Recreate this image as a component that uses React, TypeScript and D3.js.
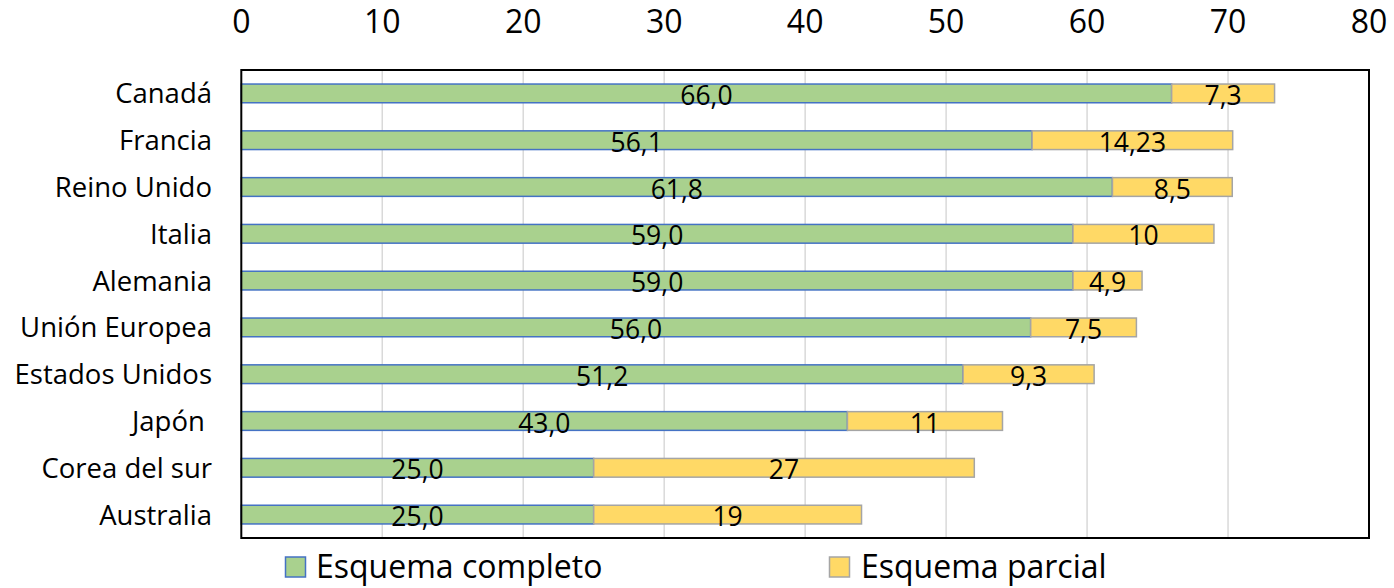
import React from "react";
import * as d3 from "d3";

const categories = [
  "Canadá",
  "Francia",
  "Reino Unido",
  "Italia",
  "Alemania",
  "Unión Europea",
  "Estados Unidos",
  "Japón ",
  "Corea del sur",
  "Australia",
];
const completo = [66.0, 56.1, 61.8, 59.0, 59.0, 56.0, 51.2, 43.0, 25.0, 25.0];
const parcial = [7.3, 14.23, 8.5, 10, 4.9, 7.5, 9.3, 11, 27, 19];
const xTicks = [0, 10, 20, 30, 40, 50, 60, 70, 80];
const seriesNames = ["Esquema completo", "Esquema parcial"];

const W = 1394;
const H = 588;
const FONT = "'Open Sans', 'Noto Sans', sans-serif";
const GREEN = "#A9D18E";
const BLUE = "#4472C4";
const YELLOW = "#FFD966";
const GREY = "#A5A5A5";

export default function App() {
  const left = 241.3;
  const right = 1369;
  const top = 70;
  const bottom = 538;
  const x = d3.scaleLinear().domain([0, 80]).range([left, right]);
  const y = d3
    .scaleBand<string>()
    .domain(categories)
    .range([top, bottom])
    .paddingInner(0.6)
    .paddingOuter(0.3);
  const bw = y.bandwidth();

  const fmtC = (v: number) => v.toFixed(1).replace(".", ",");
  const fmtP = (v: number) => String(v).replace(".", ",");

  return (
    <svg
      width={W}
      height={H}
      style={{ position: "absolute", left: 0, top: 0, background: "#fff" }}
      fontFamily={FONT}
    >
      <rect x={0} y={0} width={W} height={H} fill="#fff" />
      {/* gridlines */}
      {xTicks
        .filter((t) => t > 0 && t < 80)
        .map((t) => (
          <line
            key={"g" + t}
            x1={x(t)}
            x2={x(t)}
            y1={top}
            y2={bottom}
            stroke="#D9D9D9"
            strokeWidth={1.5}
          />
        ))}
      {/* tick labels */}
      {xTicks.map((t) => (
        <text
          key={"t" + t}
          x={x(t)}
          y={33}
          textAnchor="middle"
          fontSize={32}
          fill="#000"
        >
          {t}
        </text>
      ))}
      {/* bars */}
      {categories.map((c, i) => {
        const y0 = y(c)!;
        const cy = y0 + bw / 2;
        return (
          <g key={c}>
            <rect
              x={x(0)}
              y={y0}
              width={x(completo[i]) - x(0)}
              height={bw}
              fill={GREEN}
              stroke={BLUE}
              strokeWidth={1.5}
            />
            <rect
              x={x(completo[i])}
              y={y0}
              width={x(completo[i] + parcial[i]) - x(completo[i])}
              height={bw}
              fill={YELLOW}
              stroke={GREY}
              strokeWidth={1.5}
            />
            <text
              x={(x(0) + x(completo[i])) / 2}
              y={cy + 11.5}
              textAnchor="middle"
              fontSize={26.5}
              fill="#000"
            >
              {fmtC(completo[i])}
            </text>
            <text
              x={(x(completo[i]) + x(completo[i] + parcial[i])) / 2}
              y={cy + 11.5}
              textAnchor="middle"
              fontSize={26.5}
              fill="#000"
            >
              {fmtP(parcial[i])}
            </text>
            <text
              x={212}
              y={cy + 10}
              textAnchor="end"
              fontSize={27.5}
              fill="#000"
              style={{ whiteSpace: "pre" }}
            >
              {c}
            </text>
          </g>
        );
      })}
      {/* plot border */}
      <rect
        x={left}
        y={top}
        width={right - left}
        height={bottom - top}
        fill="none"
        stroke="#000"
        strokeWidth={2}
      />
      {/* legend */}
      <rect x={285.5} y={557} width={20} height={20} fill={GREEN} stroke={BLUE} strokeWidth={1.5} />
      <text x={316} y={578} fontSize={32} fill="#000">
        {seriesNames[0]}
      </text>
      <rect x={829.5} y={557} width={20} height={20} fill={YELLOW} stroke={GREY} strokeWidth={1.5} />
      <text x={861} y={578} fontSize={32} fill="#000">
        {seriesNames[1]}
      </text>
    </svg>
  );
}
